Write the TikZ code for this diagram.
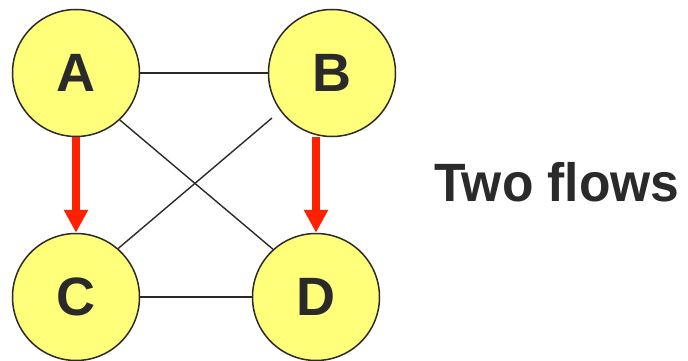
\documentclass[tikz,border=0pt]{standalone}
\usepackage{fontspec}
\setmainfont{Liberation Sans}
\usetikzlibrary{arrows.meta}
\definecolor{fillyel}{RGB}{255,255,122}
\definecolor{ink}{RGB}{42,42,42}
\definecolor{flowred}{RGB}{255,34,0}
\begin{document}
\begin{tikzpicture}[x=1pt,y=-1pt,
  vertex/.style={circle, draw=ink, line width=1.5pt, fill=fillyel, minimum size=127pt, inner sep=0pt, font=\fontsize{54}{60}\selectfont\bfseries, text=ink},
  edge/.style={draw=ink, line width=1.4pt},
  flow/.style={draw=flowred, line width=7.5pt, -{Triangle[length=23pt,width=23pt]}}]
\useasboundingbox (0,0) rectangle (688,361);
\node[vertex] (A) at (76,73) {A};
\node[vertex] (B) at (332,73) {B};
\node[vertex] (C) at (76,297) {C};
\node[vertex] (D) at (316,297) {D};
\coordinate (bx) at (272,118);
\draw[edge] (A) -- (B);
\draw[edge] (C) -- (D);
\draw[edge] (A.-47) -- (D.132);
\draw[edge] (bx) -- (C.49);
\draw[flow] (A.south) -- (C.north);
\draw[flow] (D.north |- B.south) -- (D.north);
\node[anchor=base west, font=\fontsize{54}{60}\selectfont\bfseries, text=ink, inner sep=0pt] (T) at (434,201) {\scalebox{0.955}[1]{Two flows}};
\end{tikzpicture}
\end{document}
